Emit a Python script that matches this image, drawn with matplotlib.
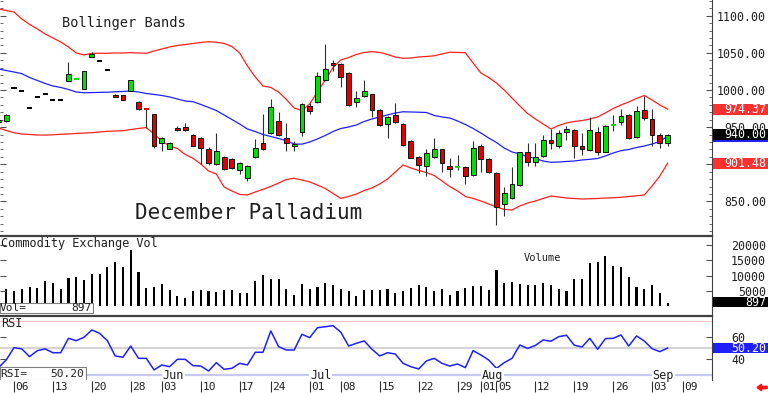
import matplotlib
matplotlib.use("Agg")
import matplotlib.pyplot as plt
import matplotlib.transforms as mtransforms
from matplotlib.patches import Rectangle, FancyArrow
from matplotlib.ticker import MultipleLocator, FormatStrFormatter
import numpy as np
import pandas as pd

plt.rcParams['font.family'] = ['DejaVu Sans Mono']

# ---- trading days (2024, CME holidays taken out) ----
holidays = ["2024-05-27", "2024-06-19", "2024-07-04", "2024-09-02"]
days = pd.bdate_range("2024-05-02", "2024-09-09")
days = days[~days.isin(pd.to_datetime(holidays))]

# ---- December palladium, May 2 .. Sep 5 ----
opens = [957, 958, 1003, 999, 976, 991, 995, 986, 986, 1012.5, 1014.4, 1001, 1045, 1039.4, 1027,
         993, 993, 998, 984, 975, 968, 928, 921, 949, 950, 940, 936, 921, 900, 910, 907, 892, 881,
         910, 928, 942.5, 958.7, 935, 924, 944, 978.5, 984, 1014, 1036, 1035, 1023, 984, 992, 994,
         973, 954, 966, 954, 932, 910, 898, 910, 920, 898, 897, 897, 885, 924, 907, 888, 846, 855,
         872, 916, 903.5, 911, 933, 924, 943, 946, 924, 919, 944, 917, 953, 957, 966, 937, 973, 961,
         940, 929]
highs = [962, 968, 1003, 999, 976, 991, 995, 986, 986, 1038, 1014.4, 1026, 1051, 1039.4, 1027,
         994, 993, 1014, 985, 975, 968, 937, 930, 951, 956, 941, 937, 923, 942.5, 911, 908, 903, 899,
         934.5, 968, 988, 971, 955, 932, 982, 983, 1024, 1062, 1041, 1036, 1024, 998, 1014, 995,
         974, 965, 982, 955, 933, 911, 920, 935, 921, 908, 912.5, 898, 932, 927, 908, 889, 870, 897,
         917, 928, 928, 939, 947, 946, 951, 948, 942, 963, 950, 953, 966, 975, 968, 978.5, 992, 975,
         942.5, 941]
lows = [953, 957, 1003, 999, 976, 991, 995, 986, 986, 1012, 1014.4, 1001, 1045, 1039.4, 1027,
        990, 986, 998, 973, 949, 922, 918, 920, 945, 945, 924, 900, 899, 899, 892, 894, 887, 878,
        909, 919, 941, 938, 918, 918, 938.5, 968, 982, 1013, 1025, 1003.6, 979, 977.5, 990, 964,
        951, 935, 956, 925, 908, 888, 884, 909, 890, 883, 892, 874, 884, 889, 888, 818, 830, 853,
        871, 898, 898, 910, 920, 922, 933, 909, 912, 918, 912.5, 916, 945, 953, 933.5, 936, 959.5, 924,
        921.5, 925]
closes = [960, 967, 1003, 999, 976, 991, 995, 986, 986, 1021.5, 1014.4, 1026, 1049, 1039.4, 1027,
          990, 986, 1014, 974.5, 975, 924, 936, 928, 946, 946, 925, 922, 901.5, 917.5, 893, 895, 902, 898,
          921.5, 920, 977.5, 939.4, 928, 927, 981, 972, 1019, 1028, 1034, 1017, 980, 989, 999, 973,
          953, 964, 957, 926, 909, 899, 915, 921, 902, 893, 897, 884, 921.5, 907, 889, 842, 862, 874,
          916, 903.5, 909.5, 933, 928, 942.5, 947, 924, 920, 946, 916, 951.6, 953, 965, 936, 972, 962, 939.4,
          928, 940.00]
# g = up, r = down, k = flat (no trade)
candle_codes = ("gg" "kkkkkkk" "gggg" "kk" "rrgrrr" "gg" "rrrrr" "g" "rr" "ggg" "r" "g" "rr" "gg" "r"
                "gg" "rrr" "gg" "rr" "g" "rrrr" "gg" "rr" "g" "r" "g" "rrr" "ggg" "r" "gg" "r" "gg" "rr"
                "g" "r" "ggg" "r" "g" "rrr" "g")

bb_upper = [1109.0, 1107.0, 1105.0, 1095.6, 1088.2, 1082.1, 1075.4, 1070.0, 1064.6, 1057.9, 1049.8, 1047.1,
            1049.4, 1049.4, 1049.4, 1049.8, 1049.8, 1050.2, 1049.8, 1049.4, 1052.5, 1055.2, 1057.9, 1059.9,
            1061.2, 1062.6, 1063.9, 1065.0, 1064.3, 1062.6, 1058.5, 1049.8, 1032.3, 1017.5, 1005.4, 1003.4,
            997.3, 987.2, 975.8, 972.4, 981.2, 997.3, 1013.5, 1030.3, 1040.4, 1043.7, 1047.8, 1050.5, 1051.6,
            1050.5, 1047.8, 1044.4, 1042.7, 1043.1, 1044.4, 1045.1, 1046.0, 1048.5, 1050.8, 1050.5, 1050.2,
            1036.3, 1022.9, 1016.8, 1009.4, 1000.0, 989.2, 978.5, 968.4, 961.0, 954.2, 947.5, 952.2, 955.6,
            957.6, 958.9, 960.9, 963.7, 969.1, 975.1, 979.8, 983.9, 988.6, 992.6, 986.5, 979.8, 974.37]
bb_mid = [1028.3, 1026.2, 1024.2, 1022.0, 1016.8, 1012.8, 1008.8, 1005.4, 1003.4, 1000.7, 997.3, 996.3,
          996.5, 996.8, 997.0, 997.6, 998.0, 998.5, 997.3, 995.3, 994.0, 992.6, 990.6, 987.9, 985.2, 984.3,
          980.5, 976.5, 972.4, 966.3, 960.3, 954.2, 947.5, 944.1, 940.1, 937.4, 934.7, 931.8, 927.3, 927.1,
          930.0, 934.1, 938.8, 944.1, 948.2, 950.2, 952.9, 957.6, 961.0, 963.7, 966.4, 969.0, 970.7, 970.4,
          970.1, 969.7, 965.7, 963.7, 962.3, 958.3, 953.6, 948.2, 942.1, 935.4, 929.3, 921.9, 916.6, 913.8,
          910.5, 907.8, 904.4, 902.7, 903.1, 903.8, 904.4, 905.8, 906.7, 907.8, 911.2, 915.2, 918.3, 919.9,
          922.6, 924.6, 927.3, 930.7, 937.93]
bb_lower = [948.9, 945.5, 942.5, 940.8, 940.1, 939.4, 939.4, 939.7, 940.4, 940.8, 941.5, 942.1, 942.5,
            943.5, 944.4, 944.8, 945.2, 946.8, 948.2, 949.5, 940.8, 931.4, 924.6, 921.3, 913.2, 908.1, 900.4,
            891.0, 886.9, 869.4, 864.1, 859.4, 858.7, 862.7, 866.3, 870.1, 874.8, 879.5, 881.2, 878.9, 876.2,
            872.1, 867.4, 860.7, 854.0, 856.7, 860.0, 864.7, 868.1, 873.5, 880.2, 889.6, 899.1, 895.0, 891.7,
            889.0, 884.9, 877.5, 870.1, 864.1, 856.7, 854.0, 850.6, 846.6, 842.5, 839.2, 838.5, 843.9, 847.9,
            850.6, 854.0, 857.3, 856.0, 854.6, 854.0, 853.3, 853.6, 854.0, 854.6, 855.0, 855.6, 856.7, 857.6,
            858.7, 870.8, 884.2, 901.48]

volume = [5200, 5500, 4950, 5700, 6350, 6050, 8250, 7700, 5500, 9300, 9650, 8450, 10650, 10650, 12950,
          14500, 12950, 18450, 11300, 6050, 6350, 7150, 5150, 3300, 2750, 5050, 5150, 4950, 4700, 5250,
          5150, 4400, 4150, 8250, 10100, 8800, 9000, 5700, 3750, 7150, 5500, 6350, 7700, 7000, 5500, 4850,
          3300, 5150, 5150, 5150, 5500, 4150, 4850, 6050, 6900, 6150, 5050, 5500, 3500, 5050, 5800, 6450,
          6450, 5150, 11750, 7450, 7900, 7150, 6900, 6800, 7550, 6800, 5500, 4850, 8800, 9000, 14250,
          14500, 16450, 13050, 12850, 9550, 6250, 5500, 7000, 4400, 897]

rsi = [32, 39.2, 50.6, 49.4, 42.3, 47.8, 49.4, 45.9, 45.9, 59.2, 57.0, 60.2, 66.9, 63.8, 57.0, 42.9, 41.7,
       52.1, 40.7, 40.7, 30.0, 34.6, 33.0, 39.8, 39.8, 34.0, 33.6, 29.0, 36.7, 30.6, 31.5, 36.1, 34.6,
       46.3, 46.3, 66.0, 51.5, 48.4, 48.4, 62.9, 59.8, 69.0, 69.9, 70.9, 64.8, 52.1, 54.6, 56.8, 49.1,
       42.9, 45.9, 44.7, 36.1, 33.0, 30.9, 38.3, 40.7, 36.1, 33.6, 35.5, 32.1, 47.8, 43.8, 39.2, 31.5,
       36.7, 40.7, 53.0, 49.9, 52.6, 57.7, 56.5, 60.7, 62.0, 52.8, 51.2, 59.2, 49.1, 58.9, 59.2, 62.3,
       52.1, 61.4, 56.7, 49.6, 46.9, 50.20]

price_ticks = [850, 900, 950, 1000, 1050, 1100]
vol_ticks = [5000, 10000, 15000, 20000]
rsi_ticks = [40, 60]

GREEN = '#00e000'
RED = '#e00000'
BLUE = '#2020ff'
DARK = '#202020'
colmap = {'g': GREEN, 'r': RED, 'k': 'black'}

W, H = 768, 393
fig = plt.figure(figsize=(W / 100, H / 100), dpi=100)


def px_box(l, t, r, b):
    return [l / W, 1 - b / H, (r - l) / W, (b - t) / H]


ax_p = fig.add_axes(px_box(0, 0, 712, 236))
ax_v = fig.add_axes(px_box(0, 236, 712, 316))
ax_r = fig.add_axes(px_box(0, 316, 712, 380))
ax_d = fig.add_axes(px_box(0, 380, 712, 393))

n = len(opens)
x = np.arange(n)
for ax in (ax_p, ax_v, ax_r, ax_d):
    ax.set_xlim(0.2, 91.7)

ax_p.set_ylim(803.5, 1121.1)
ax_v.set_ylim(-3290, 23030)
ax_r.set_ylim(20.7, 79.8)

# ---- candles ----
for i in range(n):
    c = colmap[candle_codes[i]]
    if highs[i] > lows[i]:
        ax_p.vlines(i, lows[i], highs[i], color='#303030', lw=0.8, zorder=2)
    if opens[i] == closes[i]:
        ax_p.hlines(closes[i], i - 0.33, i + 0.33, color=c, lw=1.4, zorder=3)
    else:
        lo = min(opens[i], closes[i])
        ax_p.add_patch(Rectangle((i - 0.31, lo), 0.62, abs(closes[i] - opens[i]),
                                 facecolor=c, edgecolor='#101010', lw=0.7, zorder=3))

ax_p.plot(x, bb_upper, color='#ff2020', lw=0.9, zorder=1)
ax_p.plot(x, bb_lower, color='#ff2020', lw=0.9, zorder=1)
ax_p.plot(x, bb_mid, color=BLUE, lw=0.9, zorder=1)

ax_p.text(62 / 712, 1 - 23 / 236, "Bollinger Bands", transform=ax_p.transAxes,
          fontsize=9.8, color=DARK, va='center')
ax_p.text(135 / 712, 1 - 213 / 236, "December Palladium", transform=ax_p.transAxes,
          fontsize=15, color=DARK, va='center')

# ---- volume ----
ax_v.bar(x, volume, width=0.27, color='black', linewidth=0)
ax_v.text(1 / 712, 0.9, "Commodity Exchange Vol", transform=ax_v.transAxes,
          fontsize=8.6, color=DARK, va='center')
ax_v.text(524 / 712, 0.725, "Volume", transform=ax_v.transAxes,
          fontsize=7.5, color=DARK, va='center')
ax_v.add_patch(Rectangle((0, 0.034), 93 / 712, 0.132, transform=ax_v.transAxes,
                         facecolor='white', edgecolor='#808080', lw=0.8, zorder=5))
ax_v.text(0, 0.1, "Vol=", transform=ax_v.transAxes, fontsize=8, color=DARK, va='center', zorder=6)
ax_v.text(91 / 712, 0.1, f"{volume[-1]:.0f}", transform=ax_v.transAxes, fontsize=8,
          color=DARK, va='center', ha='right', zorder=6)

# ---- RSI ----
ax_r.axhline(75, color='#ffc4c4', lw=0.8, zorder=1)
ax_r.axhline(50, color='#d4d4d4', lw=1.6, zorder=1)
ax_r.axhline(25, color='#c8c8f4', lw=1.6, zorder=1)
ax_r.plot(x, rsi, color=BLUE, lw=1.1, zorder=3)
ax_r.text(1 / 712, 0.89, "RSI", transform=ax_r.transAxes, fontsize=8.6, color=DARK, va='center')
ax_r.add_patch(Rectangle((0, 0.0), 86 / 712, 0.203, transform=ax_r.transAxes,
                         facecolor='white', edgecolor='#808080', lw=0.8, zorder=5))
ax_r.text(0, 0.1, "RSI=", transform=ax_r.transAxes, fontsize=8, color=DARK, va='center', zorder=6)
ax_r.text(84 / 712, 0.1, f"{rsi[-1]:.2f}", transform=ax_r.transAxes, fontsize=8,
          color=DARK, va='center', ha='right', zorder=6)

# ---- date axis ----
ax_d.set_ylim(0, 1)
ax_d.axis('off')
lab_off = mtransforms.offset_copy(ax_d.transData, fig=fig, x=1.5, y=0, units='dots')
mon_off = mtransforms.offset_copy(ax_r.transData, fig=fig, x=0.5, y=0, units='dots')
for k in range(1, len(days)):
    d, prev = days[k], days[k - 1]
    new_week = d.isocalendar().week != prev.isocalendar().week
    new_month = d.month != prev.month
    if new_week or new_month:
        ax_d.vlines(k, 0.08, 0.92, color='#303030', lw=0.8)
        ax_d.text(k, 0.5, d.strftime('%d'), transform=lab_off, fontsize=8, color=DARK,
                  va='center', ha='left')
    if new_month:
        ax_r.text(k, 25, d.strftime('%b'), transform=mon_off, fontsize=8.5, color=DARK,
                  va='center', ha='left', zorder=4,
                  bbox=dict(facecolor='white', edgecolor='none', pad=0.6))

# ---- spines and ticks ----
for ax in (ax_p, ax_v, ax_r):
    ax.spines['left'].set_visible(False)
    ax.spines['bottom'].set_visible(False)
    ax.spines['right'].set_color('#404040')
    ax.spines['right'].set_linewidth(0.8)
    ax.tick_params(axis='x', bottom=False, labelbottom=False)
    ax.tick_params(axis='y', which='both', left=True, right=True, direction='in',
                   labelleft=False, labelright=True, color='#505050',
                   labelcolor=DARK, labelsize=8.4)
    ax.tick_params(axis='y', which='major', length=4, width=0.8)
    ax.tick_params(axis='y', which='minor', length=2, width=0.6)
ax_p.spines['top'].set_visible(False)
for ax in (ax_v, ax_r):
    ax.spines['top'].set_color('#404040')
    ax.spines['top'].set_linewidth(1.6)

ax_p.set_yticks(price_ticks)
ax_p.yaxis.set_minor_locator(MultipleLocator(10))
ax_p.yaxis.set_major_formatter(FormatStrFormatter('%.2f'))
ax_p.tick_params(axis='y', pad=38.9)
ax_v.set_yticks(vol_ticks)
ax_v.yaxis.set_major_formatter(FormatStrFormatter('%d'))
ax_v.tick_params(axis='y', pad=38.9)
ax_r.set_yticks(rsi_ticks)
ax_r.yaxis.set_major_formatter(FormatStrFormatter('%d'))
ax_r.tick_params(axis='y', pad=13.7)
for ax in (ax_p, ax_v):
    for t in ax.yaxis.get_major_ticks():
        t.label2.set_horizontalalignment('right')


# ---- last value boxes on the right ----
def value_box(ax, val, h, fc, txt):
    tr = mtransforms.blended_transform_factory(fig.transFigure, ax.transData)
    ax.add_patch(Rectangle((713 / W, val - h / 2), 55 / W, h, transform=tr, facecolor=fc,
                           edgecolor='none', clip_on=False, zorder=10))
    if txt:
        ax.text(766 / W, val, txt, transform=tr, fontsize=8.4, color='white', ha='right',
                va='center', clip_on=False, zorder=11)


ppx = (1121.1 - 803.5) / 236
value_box(ax_p, bb_upper[-1], 11 * ppx, '#ff3030', f"{bb_upper[-1]:.2f}")
value_box(ax_p, bb_lower[-1], 11 * ppx, '#ff3030', f"{bb_lower[-1]:.2f}")
value_box(ax_p, bb_mid[-1], 11 * ppx, BLUE, "")
value_box(ax_p, closes[-1], 10.5 * ppx, 'black', f"{closes[-1]:.2f}")
value_box(ax_v, volume[-1] + 300, 10 * (26320 / 80), 'black', f"{volume[-1]:.0f}")
value_box(ax_r, rsi[-1], 10 * (59.1 / 64), BLUE, f"{rsi[-1]:.2f}")

fig.add_artist(FancyArrow(767 / W, 1 - 387.5 / H, -10 / W, 0, width=2.4 / H, head_width=6.5 / H,
                          head_length=4.5 / W, length_includes_head=True, color='#ff1010',
                          transform=fig.transFigure))

fig.savefig("out.png", dpi=100)
